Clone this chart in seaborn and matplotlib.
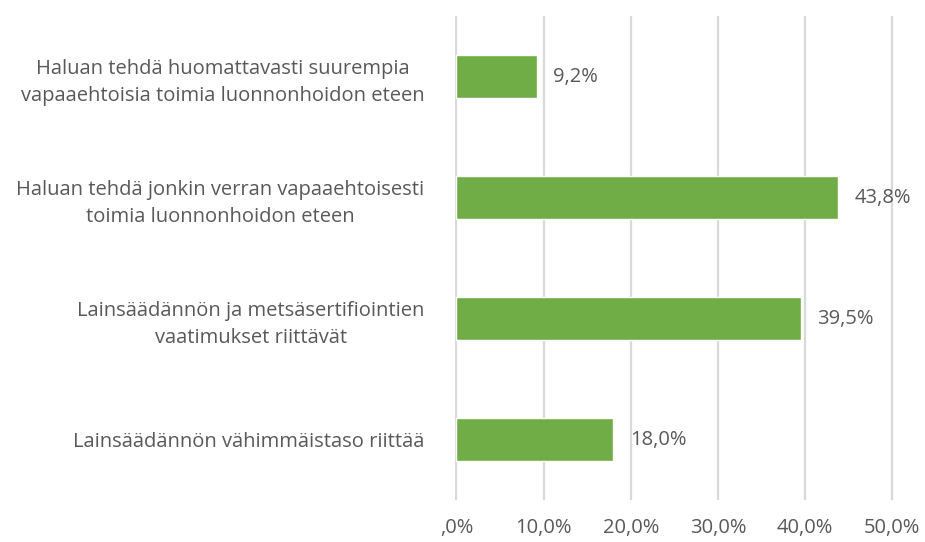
import numpy as np
import pandas as pd
import matplotlib
matplotlib.use('Agg')
import matplotlib.pyplot as plt
import seaborn as sns

categories = [
    'Haluan tehdä huomattavasti suurempia\nvapaaehtoisia toimia luonnonhoidon eteen',
    'Haluan tehdä jonkin verran vapaaehtoisesti\ntoimia luonnonhoidon eteen',
    'Lainsäädännön ja metsäsertifiointien\nvaatimukset riittävät',
    'Lainsäädännön vähimmäistaso riittää',
]
values = [9.2, 43.8, 39.5, 18.0]
xticks = [0, 10, 20, 30, 40, 50]
xtick_labels = [',0%', '10,0%', '20,0%', '30,0%', '40,0%', '50,0%']

sns.set_style('white')
plt.rcParams['font.family'] = ['Open Sans', 'DejaVu Sans']

df = pd.DataFrame({'cat': categories, 'val': values})

fig = plt.figure(figsize=(9.25, 5.42), dpi=100)
ax = fig.add_axes([0.492, 0.0775, 0.474, 0.8925])
sns.barplot(data=df, x='val', y='cat', color='#70AD47', saturation=1, width=0.36,
            ax=ax, zorder=3)

grey = '#595959'
fs = 14.5
ax.set_xlim(-0.15, 50.15)
ax.set_ylim(3.5, -0.5)
ax.set_xticks(xticks)
ax.set_xticklabels(xtick_labels, fontsize=fs, color=grey)
ax.xaxis.grid(True, color='#D9D9D9', linewidth=1.6, zorder=0)
ax.set_xlabel('')
ax.set_ylabel('')
for s in ax.spines.values():
    s.set_visible(False)
ax.tick_params(axis='x', length=0, pad=13)
ax.tick_params(axis='y', length=0, pad=22)
for lbl in ax.get_yticklabels():
    lbl.set_fontsize(fs)
    lbl.set_color(grey)
    lbl.set_multialignment('center')
    lbl.set_linespacing(1.45)

for i, v in enumerate(values):
    ax.text(v + 1.9, i, f'{v:.1f}%'.replace('.', ','), va='center', ha='left',
            fontsize=fs, color=grey)

fig.savefig('out.png', dpi=100)
